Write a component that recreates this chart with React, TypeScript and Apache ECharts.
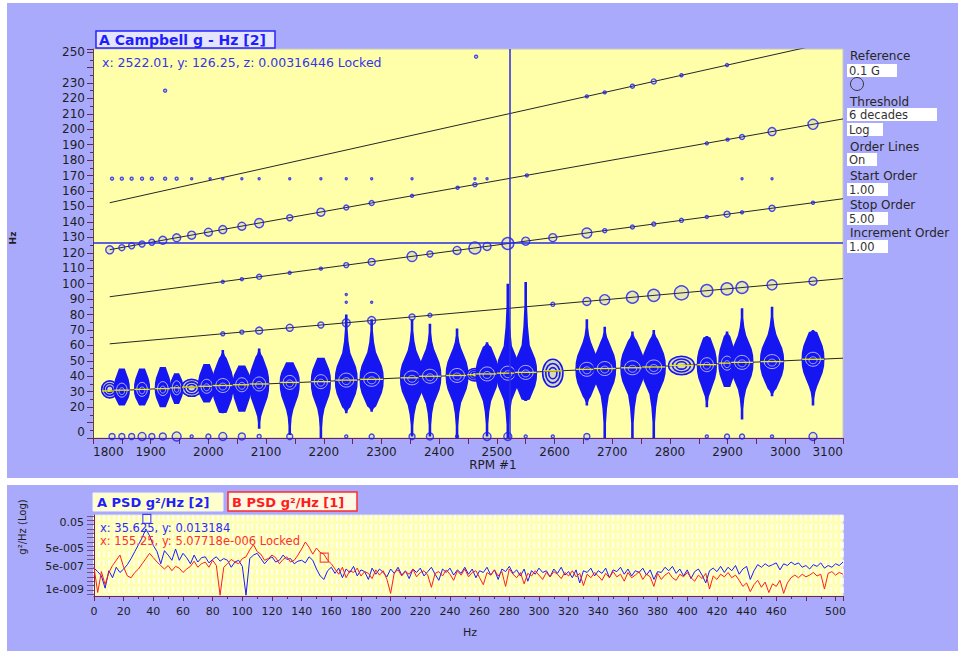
import React, { useEffect, useRef } from 'react';
import * as echarts from 'echarts';

const FONT = 'DejaVu Sans';

// ---------- Campbell diagram data ----------
// RPM slices: center frequency (Hz, 1x order), extent of the spectral blob (top/bottom Hz), relative amplitude, kind (0 blob, 1 ring)
const sliceRpm = [1829, 1850, 1885, 1921, 1945, 1971, 1997, 2025, 2058, 2088, 2141, 2195, 2239, 2283, 2353, 2384, 2431, 2462, 2483, 2519, 2550, 2597, 2656, 2687, 2735, 2772, 2820, 2864, 2899, 2925, 2977, 3048];
const sliceCenterHz = [30.5, 31, 31.5, 32, 32.5, 33, 33.5, 34, 34.5, 35, 36, 36.5, 37.5, 38, 39, 40, 40.5, 41, 41.5, 42, 42.5, 43.5, 44.5, 45, 45.5, 46, 47, 47.5, 48.5, 49, 49.5, 51];
const sliceTopHz = [37, 45, 45, 46, 42, 38, 48, 57, 47, 58, 49, 52, 80, 77, 77, 74, 71, 45, 62, 100, 101, 51, 77, 72, 69, 70, 53, 66, 69, 84, 85, 70];
const sliceBottomHz = [26, 21, 21, 20, 22, 27, 23, 16, 17, 6, 2, 0, 16, 17, 1, 1, 0, 37, 1, 0, 24, 33, 21, 0, 0, 0, 41, 20, 33, 12, 27, 21];
const sliceAmp = [0.6, 0.6, 0.6, 0.6, 0.5, 0.75, 0.65, 0.8, 0.7, 0.75, 0.75, 0.75, 0.85, 0.9, 0.9, 0.85, 0.85, 0.6, 0.85, 0.85, 0.85, 0.75, 0.85, 0.85, 0.9, 0.9, 0.95, 0.75, 0.65, 0.85, 0.9, 0.85];
const sliceKind = [1, 0, 0, 0, 0, 1, 0, 0, 0, 0, 0, 0, 0, 0, 0, 0, 0, 1, 0, 0, 0, 1, 0, 0, 0, 0, 1, 0, 0, 0, 0, 0];

// Order lines 1..5 (endpoints)
const orderStartRpm = 1829;
const orderEndRpm = 3100;
const orderStartHz = [30.5, 61, 91.5, 122, 152.4];
const orderEndHz = [51.7, 103.3, 155, 206.7, 258.3];

// Bubbles [rpm, Hz, size]
const order2Bubbles = [[2025, 67.5, 4], [2058, 68.6, 4], [2088, 69.6, 7], [2141, 71.4, 7], [2195, 73.2, 6], [2239, 74.6, 8], [2283, 76.1, 8], [2353, 78.4, 6], [2384, 79.5, 4], [2597, 86.6, 4], [2656, 88.5, 8], [2687, 89.6, 10], [2735, 91.2, 12], [2772, 92.4, 12], [2820, 94, 14], [2864, 95.5, 12], [2899, 96.6, 12], [2925, 97.5, 12], [2977, 99.2, 10], [3048, 101.6, 8]];
const order3Bubbles = [[2025, 101.2, 3], [2058, 102.9, 3], [2088, 104.4, 5], [2141, 107, 3], [2195, 109.7, 3], [2239, 112, 5], [2283, 114.1, 7], [2353, 117.6, 10], [2384, 119.2, 6], [2431, 121.5, 8], [2462, 123.1, 12], [2483, 124.1, 8], [2519, 126, 12], [2550, 127.5, 8], [2597, 129.8, 8], [2656, 132.8, 10], [2687, 134.3, 4], [2735, 136.7, 4], [2772, 138.6, 4], [2820, 141, 4], [2864, 143.2, 3], [2899, 145, 6], [2925, 146.2, 3], [2977, 148.8, 6], [3048, 152.4, 3]];
const order4Bubbles = [[1829, 121.9, 8], [1850, 123.3, 6], [1867, 124.5, 6], [1885, 125.7, 6], [1902, 126.8, 6], [1921, 128.1, 8], [1945, 129.7, 8], [1971, 131.4, 8], [2000, 133.3, 8], [2025, 135, 8], [2058, 137.2, 8], [2088, 139.2, 9], [2141, 142.7, 6], [2195, 146.3, 8], [2239, 149.3, 5], [2283, 152.2, 5], [2353, 156.9, 3], [2432, 162.1, 3], [2462, 164.1, 4], [2552, 170.1, 3], [2864, 190.9, 3], [2900, 193.3, 3], [2925, 195, 5], [2977, 198.5, 8], [3048, 203.2, 10]];
const order5Bubbles = [[2656, 221.3, 3], [2687, 223.9, 3], [2735, 227.9, 4], [2772, 231, 5], [2820, 235, 3], [2899, 241.6, 3]];
const strayBubbles = [[1833, 168, 3], [1850, 168, 3], [1867, 168, 3], [1885, 168, 3], [1902, 168, 3], [1925, 168, 3], [1945, 168, 3], [1971, 168, 2], [2003, 168, 2], [2025, 168, 2], [2058, 168, 2], [2088, 168, 2], [2141, 168, 2], [2195, 168, 2], [2239, 168, 2], [2283, 168, 2], [2353, 168, 2], [2462, 168, 2], [2483, 168, 2], [2925, 168, 2], [2977, 168, 2], [1925, 225, 3], [2464, 247, 3], [2239, 88, 2], [2239, 93, 2], [2283, 88, 2]];
const zeroHzBubbles = [[1833, 1, 6], [1850, 1, 6], [1867, 1, 6], [1885, 1, 8], [1902, 1, 6], [1921, 1, 7], [1945, 1, 9], [1971, 1, 3], [2000, 1, 5], [2025, 1, 8], [2058, 1, 7], [2088, 1, 4], [2141, 1, 6], [2239, 1, 3], [2283, 1, 5], [2353, 1, 6], [2384, 1, 7], [2431, 1, 3], [2483, 1, 8], [2519, 1, 8], [2550, 1, 3], [2597, 1, 3], [2656, 1, 6], [2864, 1, 3], [2899, 1, 5], [2925, 1, 5], [2977, 1, 3], [3048, 1, 8]];

const campbellCursorRpm = 2522.01;
const campbellCursorHz = 126.25;

// ---------- PSD data (log10 of g²/Hz), bins every 2.5 Hz from 0 to 505 Hz ----------
const psdBinHz = 2.5;
const psdBlueLog = [
  -6.5, -6.9, -7.4, -8.8, -6.8, -7.6, -6.4, -7.0, -6.6, -6.1,
  -5.4, -4.6, -3.8, -3.0, -2.0, -2.8, -3.9, -4.6, -6.0, -4.5,
  -5.0, -5.6, -4.3, -5.6, -4.8, -5.3, -6.0, -5.0, -5.8, -5.3,
  -5.2, -5.9, -5.5, -5.2, -5.7, -5.4, -5.6, -6.4, -5.8, -5.6,
  -6.3, -9.6, -5.4, -5.0, -4.8, -5.4, -6.0, -5.5, -5.2, -5.8,
  -5.6, -5.0, -5.5, -5.4, -6.0, -5.7, -5.6, -5.9, -5.2, -5.6,
  -6.6, -7.4, -7.8, -6.8, -6.4, -7.1, -6.5, -7.6, -6.6, -7.0,
  -6.3, -7.4, -6.7, -6.9, -7.8, -6.5, -7.2, -6.6, -7.0, -7.5,
  -6.6, -7.1, -6.4, -7.3, -6.8, -7.7, -6.6, -7.0, -6.5, -7.4,
  -6.9, -6.4, -7.2, -7.9, -6.6, -7.0, -6.5, -7.3, -6.7, -7.1,
  -6.4, -7.2, -6.6, -7.6, -6.8, -7.0, -6.4, -7.3, -6.7, -7.8,
  -6.6, -6.9, -6.3, -7.1, -6.7, -7.4, -6.6, -8.0, -6.8, -7.2,
  -6.5, -7.0, -6.8, -7.5, -6.6, -7.1, -6.4, -7.3, -6.9, -7.6,
  -6.7, -8.2, -6.8, -7.0, -6.5, -7.4, -6.8, -7.1, -6.5, -7.6,
  -6.7, -6.9, -6.4, -7.2, -6.6, -7.4, -6.8, -7.0, -6.5, -7.3,
  -6.7, -7.8, -6.9, -7.0, -6.4, -6.8, -6.3, -7.1, -6.6, -7.4,
  -6.7, -7.7, -6.9, -6.6, -7.3, -8.2, -6.8, -6.5, -6.9, -6.3,
  -7.0, -6.4, -6.8, -6.2, -7.2, -6.6, -6.3, -7.8, -6.8, -6.1,
  -6.4, -6.0, -6.3, -6.1, -5.9, -6.7, -6.0, -6.2, -5.8, -6.1,
  -5.9, -6.4, -6.2, -6.6, -6.1, -6.3, -5.9, -6.5, -6.2, -6.4,
  -6.0, -6.2, -5.8,
];
const psdRedLog = [
  -6.4, -9.3, -6.9, -8.4, -7.0, -6.2, -5.6, -5.0, -6.4, -7.4,
  -7.6, -7.0, -6.6, -6.0, -5.4, -4.8, -5.3, -5.8, -6.2, -6.6,
  -6.2, -6.8, -6.3, -6.5, -7.0, -6.6, -6.3, -5.7, -6.4, -6.0,
  -5.8, -6.4, -5.6, -6.2, -9.6, -6.4, -6.0, -5.5, -5.8, -6.0,
  -5.4, -5.2, -4.4, -3.8, -4.6, -4.9, -5.6, -5.4, -5.0, -5.3,
  -6.0, -5.5, -5.2, -5.8, -5.6, -5.0, -4.3, -3.5, -4.1, -4.9,
  -4.2, -4.7, -4.9, -5.6, -6.0, -6.6, -7.2, -6.4, -7.6, -6.8,
  -7.0, -6.5, -7.4, -6.9, -7.1, -7.7, -6.7, -7.3, -6.8, -7.8,
  -9.4, -7.0, -6.7, -7.4, -6.9, -7.2, -6.6, -7.5, -7.0, -6.8,
  -7.3, -8.7, -7.1, -6.9, -7.4, -6.7, -7.2, -7.9, -6.8, -7.3,
  -6.6, -7.5, -7.0, -6.8, -7.6, -8.4, -7.0, -7.3, -6.7, -7.4,
  -6.9, -8.6, -6.6, -7.2, -7.6, -7.0, -8.3, -7.1, -7.4, -6.8,
  -7.3, -7.8, -7.0, -7.5, -6.9, -7.2, -7.7, -7.0, -7.4, -6.8,
  -7.5, -7.1, -8.5, -7.2, -7.6, -7.0, -7.4, -7.9, -7.1, -7.6,
  -6.9, -7.5, -7.2, -8.0, -7.0, -7.6, -7.3, -6.9, -7.8, -7.2,
  -7.5, -8.6, -7.1, -7.8, -7.3, -7.0, -7.6, -7.9, -7.2, -7.5,
  -7.0, -7.6, -8.0, -7.3, -7.7, -7.1, -8.9, -7.4, -7.8, -7.2,
  -7.5, -7.0, -7.6, -7.3, -7.9, -8.6, -8.2, -9.2, -8.4, -7.9,
  -8.7, -8.1, -9.3, -8.3, -8.6, -7.9, -9.4, -8.2, -7.6, -7.3,
  -7.6, -7.2, -7.5, -7.3, -7.0, -7.4, -7.2, -8.9, -7.1, -6.9,
  -7.3, -7.0, -7.2,
];
const psdCursorA = [35.625, 0.013184];
const psdCursorB = [155.25, 5.07718e-6];
const psdTickLabels = ['0.05', '5e-005', '5e-007', '1e-009'];
const psdTickValues = [0.05, 5e-5, 5e-7, 1e-9];

function buildOption() {
  const blue = '#1616f2';
  const tickColor = '#6e2456';
  const labelColor = '#1e1e1e';

  const sliceData = sliceRpm.map((r, i) => [r, sliceCenterHz[i], sliceTopHz[i], sliceBottomHz[i], sliceAmp[i], sliceKind[i]]);

  const halfProfile = (D: number, W: number) => {
    const body = Math.min(17, D / 1.6);
    const pts: number[][] = [[0, 1], [0.4 * body, 0.97], [0.8 * body, 0.84], [1.2 * body, 0.6], [1.6 * body, 0.36]];
    const rest = D - 1.6 * body;
    if (rest > 0.5) {
      pts.push([1.6 * body + rest * 0.3, 0.2], [1.6 * body + rest * 0.65, 0.1], [D, 0.04]);
    }
    return pts.map(([d, f]) => [d, Math.max(f * W, 1.3)]);
  };

  const renderSlice = (_params: any, api: any) => {
    const rpm = api.value(0);
    const c = api.value(1);
    const top = api.value(2);
    const bot = api.value(3);
    const amp = api.value(4);
    const kind = api.value(5);
    const [cx, cy] = api.coord([rpm, c]);
    const yTop = api.coord([rpm, top])[1];
    const yBot = api.coord([rpm, bot])[1];
    const W = amp * 13.5;
    const children: any[] = [];
    if (kind === 1) {
      const ccy = (yTop + yBot) / 2;
      const ry = (yBot - yTop) / 2;
      [1, 0.7, 0.4].forEach((k) => {
        children.push({
          type: 'ellipse',
          shape: { cx, cy: ccy, rx: W * k, ry: ry * k },
          style: { fill: k === 1 ? 'rgba(40,40,255,0.18)' : 'none', stroke: blue, lineWidth: 1.6 },
        });
      });
    } else {
      const up = halfProfile(Math.max(cy - yTop, 2), W);
      const dn = halfProfile(Math.max(yBot - cy, 2), W);
      const pts: number[][] = [];
      for (let i = up.length - 1; i >= 0; i--) pts.push([cx + up[i][1], cy - up[i][0]]);
      for (let i = 1; i < dn.length; i++) pts.push([cx + dn[i][1], cy + dn[i][0]]);
      for (let i = dn.length - 1; i >= 1; i--) pts.push([cx - dn[i][1], cy + dn[i][0]]);
      for (let i = 0; i < up.length; i++) pts.push([cx - up[i][1], cy - up[i][0]]);
      children.push({ type: 'polygon', shape: { points: pts }, style: { fill: blue } });
      children.push({
        type: 'ellipse',
        shape: { cx, cy, rx: W * 0.65, ry: 7 },
        style: { fill: 'none', stroke: 'rgba(255,255,255,0.65)', lineWidth: 1 },
      });
      children.push({
        type: 'ellipse',
        shape: { cx, cy: cy + 1, rx: W * 0.35, ry: 3.5 },
        style: { fill: 'none', stroke: 'rgba(255,255,255,0.55)', lineWidth: 1 },
      });
    }
    children.push({
      type: 'line',
      shape: { x1: cx - W * 0.95, y1: cy, x2: cx + W * 0.95, y2: cy },
      style: { stroke: '#eded00', lineWidth: 1.3 },
    });
    return { type: 'group', children };
  };

  const bubbleStyle = {
    color: 'rgba(60,60,255,0.15)',
    borderColor: '#1c1cf0',
    borderWidth: 1.4,
  };
  const bubbleSeries = (data: number[][], name: string, extra: any = {}) => ({
    type: 'scatter',
    name,
    xAxisIndex: 0,
    yAxisIndex: 0,
    data,
    symbol: 'circle',
    symbolSize: (v: number[]) => v[2],
    itemStyle: bubbleStyle,
    silent: true,
    z: 4,
    ...extra,
  });

  const orderSeries = orderStartHz.map((s, i) => ({
    type: 'line',
    name: 'order' + (i + 1),
    xAxisIndex: 0,
    yAxisIndex: 0,
    data: [[orderStartRpm, s], [orderEndRpm, orderEndHz[i]]],
    symbol: 'none',
    lineStyle: { color: '#262626', width: 1 },
    clip: true,
    silent: true,
    z: 2,
  }));

  const psdLogTicks: number[] = [];
  for (let v = -9.5; v <= -0.5; v += 0.5) psdLogTicks.push(v);
  const psdLabelLog = psdTickValues.map((v) => Math.log10(v));

  const panelText = (text: string, x: number, y: number) => ({
    type: 'text',
    x,
    y,
    z: 50,
    style: { text, fill: '#262626', font: `12px "${FONT}"`, verticalAlign: 'middle' },
  });
  const panelBox = (text: string, y: number, w: number) => ({
    type: 'group',
    z: 50,
    children: [
      { type: 'rect', shape: { x: 847, y, width: w, height: 13 }, style: { fill: '#ffffff' }, z: 50 },
      { type: 'text', x: 849, y: y + 7, z: 51, style: { text, fill: '#333333', font: `11.5px "${FONT}"`, verticalAlign: 'middle' } },
    ],
  });

  return {
    animation: false,
    backgroundColor: '#ffffff',
    textStyle: { fontFamily: FONT },
    grid: [
      { left: 93, top: 49, width: 750, height: 389, show: true, backgroundColor: '#ffffaa', borderColor: '#c4c4c4', borderWidth: 1, containLabel: false },
      { left: 94, top: 515, width: 749, height: 81, show: true, backgroundColor: '#ffffb4', borderColor: '#e4e4e4', borderWidth: 1, containLabel: false },
    ],
    xAxis: [
      {
        type: 'value',
        gridIndex: 0,
        min: 1800,
        max: 3100,
        interval: 100,
        axisLine: { show: true, lineStyle: { color: tickColor } },
        axisTick: { show: true, length: 6, lineStyle: { color: tickColor } },
        minorTick: { show: true, splitNumber: 2, length: 6, lineStyle: { color: tickColor } },
        splitLine: { show: false },
        axisLabel: {
          fontSize: 12,
          color: labelColor,
          margin: 8,
          fontFamily: FONT,
          alignMinLabel: 'left',
          alignMaxLabel: 'right',
          formatter: (v: number) => String(v),
        },
      },
      {
        type: 'value',
        gridIndex: 1,
        min: 0,
        max: 505,
        interval: 20,
        axisLine: { show: true, lineStyle: { color: tickColor } },
        axisTick: { show: true, length: 5, lineStyle: { color: tickColor } },
        minorTick: { show: true, splitNumber: 2, length: 3, lineStyle: { color: tickColor } },
        splitLine: { show: false },
        axisLabel: {
          fontSize: 11,
          color: labelColor,
          margin: 10,
          fontFamily: FONT,
          formatter: (v: number) => (v === 480 ? '' : String(v)),
        },
      },
      {
        type: 'value',
        gridIndex: 1,
        min: 0,
        max: 505,
        interval: 20,
        axisLine: { show: false },
        axisTick: { show: false },
        axisLabel: { show: false },
        minorTick: { show: false, splitNumber: 6 },
        splitLine: { show: true, lineStyle: { color: 'rgba(255,255,255,0.95)', width: 1.5, type: [6, 3] } },
        minorSplitLine: { show: true, lineStyle: { color: 'rgba(255,255,255,0.95)', width: 1.5, type: [6, 3] } },
      },
    ],
    yAxis: [
      {
        type: 'value',
        gridIndex: 0,
        min: 0,
        max: 252,
        interval: 10,
        axisLine: { show: true, lineStyle: { color: '#5a4050' } },
        axisTick: { show: true, length: 6, lineStyle: { color: tickColor } },
        minorTick: { show: true, splitNumber: 2, length: 3, lineStyle: { color: tickColor } },
        splitLine: { show: false },
        axisLabel: {
          fontSize: 12,
          color: labelColor,
          margin: 8,
          fontFamily: FONT,
          verticalAlignMinLabel: 'bottom',
          formatter: (v: number) => (v === 10 || v === 240 ? '' : String(v)),
        },
      },
      {
        type: 'value',
        gridIndex: 1,
        min: -9.7,
        max: -0.4,
        axisLine: { show: true, lineStyle: { color: tickColor } },
        axisTick: { show: true, length: 7, customValues: psdLogTicks, lineStyle: { color: '#7a4a80' } },
        splitLine: { show: false },
        axisLabel: {
          fontSize: 11,
          color: labelColor,
          margin: 10,
          fontFamily: FONT,
          customValues: psdLabelLog,
          formatter: (v: number) => {
            const i = psdLabelLog.findIndex((p) => Math.abs(p - v) < 1e-6);
            return i >= 0 ? psdTickLabels[i] : '';
          },
        },
      },
    ],
    series: [
      ...orderSeries,
      {
        type: 'custom',
        name: 'slices',
        xAxisIndex: 0,
        yAxisIndex: 0,
        data: sliceData,
        renderItem: renderSlice,
        encode: { x: 0, y: 1 },
        clip: true,
        silent: true,
        z: 3,
      },
      bubbleSeries(order2Bubbles, 'o2'),
      bubbleSeries(order3Bubbles, 'o3'),
      bubbleSeries(order4Bubbles, 'o4'),
      bubbleSeries(order5Bubbles, 'o5'),
      bubbleSeries(strayBubbles, 'stray'),
      bubbleSeries(zeroHzBubbles, 'zero', {
        markLine: {
          silent: true,
          symbol: ['none', 'none'],
          label: { show: false },
          lineStyle: { color: '#2a2ae6', width: 1.5, type: 'solid' },
          data: [{ xAxis: campbellCursorRpm }, { yAxis: campbellCursorHz }],
        },
      }),
      {
        type: 'line',
        name: 'A PSD',
        xAxisIndex: 1,
        yAxisIndex: 1,
        data: psdBlueLog.map((v, i) => [i * psdBinHz, v]),
        symbol: 'none',
        lineStyle: { color: '#1a1aff', width: 1 },
        silent: true,
        z: 3,
      },
      {
        type: 'line',
        name: 'B PSD',
        xAxisIndex: 1,
        yAxisIndex: 1,
        data: psdRedLog.map((v, i) => [i * psdBinHz, v]),
        symbol: 'none',
        lineStyle: { color: '#ff1c1c', width: 1 },
        silent: true,
        z: 4,
      },
      {
        type: 'scatter',
        xAxisIndex: 1,
        yAxisIndex: 1,
        data: [[psdCursorA[0], Math.log10(psdCursorA[1])]],
        symbol: 'rect',
        symbolSize: [8, 9],
        symbolOffset: [0, -9],
        itemStyle: { color: 'rgba(0,0,0,0)', borderColor: '#1a1aff', borderWidth: 1.2 },
        silent: true,
        z: 6,
      },
      {
        type: 'scatter',
        xAxisIndex: 1,
        yAxisIndex: 1,
        data: [[psdCursorB[0], Math.log10(psdCursorB[1])]],
        symbol: 'rect',
        symbolSize: [8, 9],
        itemStyle: { color: 'rgba(0,0,0,0)', borderColor: '#ff1c1c', borderWidth: 1.2 },
        silent: true,
        z: 6,
      },
    ],
    graphic: [
      { type: 'rect', z: -10, shape: { x: 7, y: 3, width: 951, height: 475 }, style: { fill: '#aaaafc' } },
      { type: 'rect', z: -10, shape: { x: 7, y: 485, width: 951, height: 166 }, style: { fill: '#aaaafc' } },
      // Campbell title box
      { type: 'rect', z: 40, shape: { x: 96, y: 31, width: 179, height: 17 }, style: { fill: '#e4e4ff', stroke: '#2424ff', lineWidth: 1.5 } },
      { type: 'text', z: 41, x: 99, y: 40, style: { text: 'A Campbell g - Hz [2]', fill: '#1e1eff', font: `bold 14px "${FONT}"`, verticalAlign: 'middle' } },
      { type: 'text', z: 41, x: 102, y: 62, style: { text: 'x: 2522.01, y: 126.25, z: 0.00316446 Locked', fill: '#3434e8', font: `12.5px "${FONT}"`, verticalAlign: 'middle' } },
      // axis names
      { type: 'text', z: 41, x: 493, y: 465, style: { text: 'RPM #1', fill: labelColor, font: `12px "${FONT}"`, align: 'center', verticalAlign: 'middle' } },
      { type: 'text', z: 41, x: 13, y: 238, rotation: Math.PI / 2, style: { text: 'Hz', fill: labelColor, font: `bold 9px "${FONT}"`, align: 'center', verticalAlign: 'middle' } },
      { type: 'text', z: 41, x: 470, y: 632, style: { text: 'Hz', fill: labelColor, font: `11px "${FONT}"`, align: 'center', verticalAlign: 'middle' } },
      { type: 'text', z: 41, x: 22, y: 527, rotation: Math.PI / 2, style: { text: 'g²/Hz (Log)', fill: labelColor, font: `10px "${FONT}"`, align: 'center', verticalAlign: 'middle' } },
      // right panel
      panelText('Reference', 850, 56),
      panelBox('0.1 G', 64, 50),
      { type: 'circle', z: 50, shape: { cx: 857, cy: 84, r: 6.5 }, style: { fill: 'none', stroke: '#333333', lineWidth: 1 } },
      panelText('Threshold', 850, 102),
      panelBox('6 decades', 108, 90),
      panelBox('Log', 123, 36),
      panelText('Order Lines', 850, 147),
      panelBox('On', 153, 30),
      panelText('Start Order', 850, 176),
      panelBox('1.00', 183, 41),
      panelText('Stop Order', 850, 205),
      panelBox('5.00', 212, 41),
      panelText('Increment Order', 850, 233),
      panelBox('1.00', 240, 41),
      // PSD legend boxes
      { type: 'rect', z: 40, shape: { x: 93, y: 493, width: 130, height: 18 }, style: { fill: '#ffffcc', stroke: '#f4f4f4', lineWidth: 1 } },
      { type: 'text', z: 41, x: 97, y: 502, style: { text: 'A PSD g²/Hz [2]', fill: '#1e1eff', font: `bold 13px "${FONT}"`, verticalAlign: 'middle' } },
      { type: 'rect', z: 40, shape: { x: 228, y: 492, width: 129, height: 19 }, style: { fill: '#fff8e4', stroke: '#ff2a2a', lineWidth: 1.5 } },
      { type: 'text', z: 41, x: 232, y: 502, style: { text: 'B PSD g²/Hz [1]', fill: '#ff1c1c', font: `bold 13px "${FONT}"`, verticalAlign: 'middle' } },
      { type: 'text', z: 41, x: 100, y: 528, style: { text: 'x: 35.625, y: 0.013184', fill: '#2a2aff', font: `11.5px "${FONT}"`, verticalAlign: 'middle' } },
      { type: 'text', z: 41, x: 100, y: 541, style: { text: 'x: 155.25, y: 5.07718e-006 Locked', fill: '#ff3030', font: `11.5px "${FONT}"`, verticalAlign: 'middle' } },
    ],
  };
}

export default function App() {
  const ref = useRef<HTMLDivElement>(null);
  useEffect(() => {
    document.body.style.margin = '0';
    const chart = echarts.init(ref.current as HTMLDivElement, null, { renderer: 'svg' });
    chart.setOption(buildOption() as any);
    return () => {
      chart.dispose();
    };
  }, []);
  return <div ref={ref} style={{ width: 958, height: 653 }} />;
}
